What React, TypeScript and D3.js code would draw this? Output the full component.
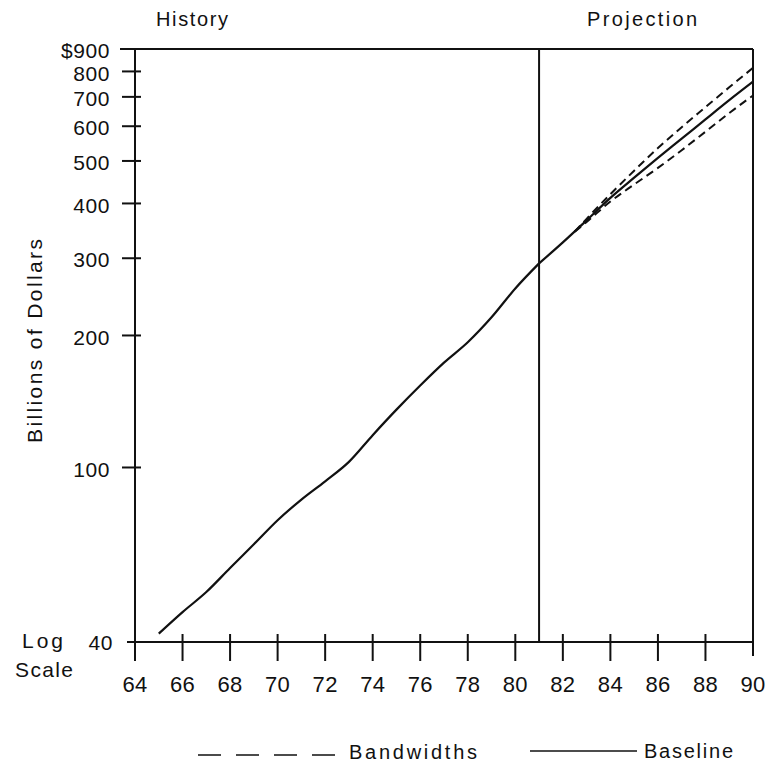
import React from "react";
import * as d3 from "d3";

const historyYears = [65, 66, 67, 68, 69, 70, 71, 72, 73, 74, 75, 76, 77, 78, 79, 80, 81];
const historyValues = [41.8, 46.8, 52, 59, 66.8, 75.8, 84.5, 93, 103, 118.5, 135.5, 153.8, 173.4, 193, 220, 256, 292];

const baselineYears = [81, 82, 83, 84, 85, 86, 87, 88, 89, 90];
const baselineValues = [292, 326, 366, 412, 458, 508, 562, 622, 688, 758];

const bandYears = [82.5, 83, 84, 85, 86, 87, 88, 89, 90];
const bandUpper = [345, 369, 420, 475, 535, 597, 663, 736, 815];
const bandLower = [345, 363, 404, 442, 482, 529, 583, 643, 705];

const yTickValues = [40, 100, 200, 300, 400, 500, 600, 700, 800, 900];
const yTickLabels = ["40", "100", "200", "300", "400", "500", "600", "700", "800", "$900"];
const xTickValues = [64, 66, 68, 70, 72, 74, 76, 78, 80, 82, 84, 86, 88, 90];
const xTickLabels = ["64", "66", "68", "70", "72", "74", "76", "78", "80", "82", "84", "86", "88", "90"];
const divideYear = 81;

const FONT = "'Liberation Sans', Arial, Helvetica, sans-serif";

export default function App() {
  const W = 774;
  const H = 764;
  const x = d3.scaleLinear().domain([64, 90]).range([135, 753]);
  const y = d3.scaleLog().domain([40, 900]).range([642, 49]);
  const line = d3
    .line<[number, number]>()
    .x((d) => x(d[0]))
    .y((d) => y(d[1]))
    .curve(d3.curveMonotoneX);

  const hist = historyYears.map((yr, i) => [yr, historyValues[i]] as [number, number]);
  const base = baselineYears.map((yr, i) => [yr, baselineValues[i]] as [number, number]);
  const up = bandYears.map((yr, i) => [yr, bandUpper[i]] as [number, number]);
  const lo = bandYears.map((yr, i) => [yr, bandLower[i]] as [number, number]);

  const x0 = x(64);
  const x1 = x(90);
  const yTop = y(900);
  const yBot = y(40);
  const stroke = "#111";

  return (
    <svg
      width={W}
      height={H}
      style={{ position: "absolute", left: 0, top: 0, background: "#fff" }}
      fontFamily={FONT}
    >
      <rect x={0} y={0} width={W} height={H} fill="#fff" />
      {/* frame */}
      <line x1={120} x2={x1} y1={yTop} y2={yTop} stroke={stroke} strokeWidth={2} />
      <line x1={127} x2={x1} y1={yBot} y2={yBot} stroke={stroke} strokeWidth={2} />
      <line x1={x0} x2={x0} y1={yTop} y2={yBot + 19} stroke={stroke} strokeWidth={2} />
      <line x1={x1} x2={x1} y1={yTop} y2={yBot + 14} stroke={stroke} strokeWidth={2} />
      <line x1={x(divideYear)} x2={x(divideYear)} y1={yTop} y2={yBot} stroke={stroke} strokeWidth={2} />

      {/* y ticks */}
      {yTickValues.map((v, i) => (
        <g key={"yt" + v}>
          {v !== 40 && v !== 900 && (
            <line x1={x0 - 13} x2={x0 + 6} y1={y(v)} y2={y(v)} stroke={stroke} strokeWidth={2} />
          )}
          <text
            x={v === 40 ? 113 : 110}
            y={y(v)}
            dy={v === 40 ? "0.38em" : "0.44em"}
            textAnchor="end"
            fontSize={21}
            letterSpacing={0.6}
            fill="#111"
          >
            {yTickLabels[i]}
          </text>
        </g>
      ))}

      {/* x ticks */}
      {xTickValues.map((v, i) => (
        <g key={"xt" + v}>
          {v !== 64 && v !== 90 && (
            <line x1={x(v)} x2={x(v)} y1={yBot - 8} y2={yBot + 19} stroke={stroke} strokeWidth={2} />
          )}
          <text x={x(v)} y={692} textAnchor="middle" fontSize={22} letterSpacing={0.3} fill="#111">
            {xTickLabels[i]}
          </text>
        </g>
      ))}

      <text x={22} y={648} fontSize={21} textLength={41} lengthAdjust="spacing" fill="#111">
        Log
      </text>
      <text x={15} y={677} fontSize={21} textLength={58} lengthAdjust="spacing" fill="#111">
        Scale
      </text>

      <text
        transform="translate(42,341) rotate(-90)"
        textAnchor="middle"
        fontSize={21}
        textLength={204}
        lengthAdjust="spacing"
        fill="#111"
      >
        Billions of Dollars
      </text>

      <text x={156} y={26} fontSize={20} textLength={72} lengthAdjust="spacing" fill="#111">
        History
      </text>
      <text x={587} y={26} fontSize={20} textLength={110} lengthAdjust="spacing" fill="#111">
        Projection
      </text>

      {/* data */}
      <path d={line(hist) || ""} fill="none" stroke={stroke} strokeWidth={2.2} />
      <path d={line(base) || ""} fill="none" stroke={stroke} strokeWidth={2.2} />
      <path d={line(up) || ""} fill="none" stroke={stroke} strokeWidth={2} strokeDasharray="8,5" />
      <path d={line(lo) || ""} fill="none" stroke={stroke} strokeWidth={2} strokeDasharray="8,5" />

      {/* legend */}
      <line x1={198} x2={339} y1={755} y2={755} stroke={stroke} strokeWidth={1.6} strokeDasharray="23,15" />
      <text x={349} y={759} fontSize={20} textLength={128} lengthAdjust="spacing" fill="#111">
        Bandwidths
      </text>
      <line x1={530} x2={637} y1={751} y2={751} stroke={stroke} strokeWidth={1.6} />
      <text x={644} y={758} fontSize={20} textLength={89} lengthAdjust="spacing" fill="#111">
        Baseline
      </text>
    </svg>
  );
}
